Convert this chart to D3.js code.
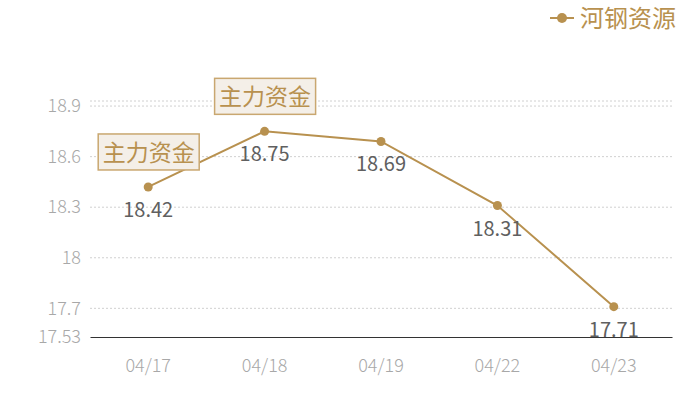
<!DOCTYPE html>
<html>
<head>
<meta charset="utf-8">
<script src="https://cdn.jsdelivr.net/npm/d3@7"></script>
<style>
  body { margin: 0; background: #fff; }
  text { font-family: "Noto Sans CJK SC", "Noto Sans", sans-serif; }
</style>
</head>
<body>
<div id="chart"></div>
<script>
// data
var dates = ["04/17", "04/18", "04/19", "04/22", "04/23"];
var prices = [18.42, 18.75, 18.69, 18.31, 17.71];
var yTicks = [17.53, 17.7, 18, 18.3, 18.6, 18.9];
var yMin = 17.53, yMax = 18.93;
var seriesName = "河钢资源";
var notes = [{ date: "04/17", text: "主力资金" }, { date: "04/18", text: "主力资金" }];

var svgWidth = 700;
var svgHeight = 400;
var margin = { top: 101, right: 28, bottom: 63, left: 90 };
var width = svgWidth - margin.left - margin.right;
var height = svgHeight - margin.top - margin.bottom;

var gold = "#b8914f";

var svg = d3.select("#chart")
  .append("svg")
  .attr("width", svgWidth)
  .attr("height", svgHeight);

var chartGroup = svg.append("g")
  .attr("transform", `translate(${margin.left}, ${margin.top})`);

var xScale = d3.scaleBand().domain(dates).range([0, width]);
var yScale = d3.scaleLinear().domain([yMin, yMax]).range([height, 0]);

// grid lines (dashed), top one unlabeled
var gridVals = yTicks.filter(d => d !== yMin).concat([yMax]);
chartGroup.selectAll(".grid")
  .data(gridVals)
  .enter()
  .append("line")
  .attr("x1", 0)
  .attr("x2", width)
  .attr("y1", d => yScale(d))
  .attr("y2", d => yScale(d))
  .attr("stroke", "#d0d0d0")
  .attr("stroke-dasharray", "2,2");

// y axis labels
var leftAxis = d3.axisLeft(yScale).tickValues(yTicks).tickSize(0).tickPadding(9).tickFormat(d => String(+d.toFixed(2)));
var yAxisG = chartGroup.append("g").call(leftAxis);
yAxisG.select(".domain").remove();
yAxisG.selectAll("text")
  .attr("fill", "#a8a8a8")
  .style("font-size", "18px")
  .style("font-weight", 300);

// x axis
var bottomAxis = d3.axisBottom(xScale).tickSize(0).tickPadding(22);
var xAxisG = chartGroup.append("g")
  .attr("transform", `translate(0, ${height})`)
  .call(bottomAxis);
xAxisG.select(".domain").attr("stroke", "#333").attr("stroke-width", 1.2);
xAxisG.selectAll("text")
  .attr("fill", "#a8a8a8")
  .style("font-size", "18px")
  .style("font-weight", 300);

var cx = d => xScale(d) + xScale.bandwidth() / 2;

// line
var line = d3.line()
  .x((d, i) => cx(dates[i]))
  .y(d => yScale(d));

chartGroup.append("path")
  .datum(prices)
  .attr("fill", "none")
  .attr("stroke", gold)
  .attr("stroke-width", 2)
  .attr("d", line);

chartGroup.selectAll(".pt")
  .data(prices)
  .enter()
  .append("circle")
  .attr("cx", (d, i) => cx(dates[i]))
  .attr("cy", d => yScale(d))
  .attr("r", 4.5)
  .attr("fill", gold);

// value labels
chartGroup.selectAll(".val")
  .data(prices)
  .enter()
  .append("text")
  .attr("x", (d, i) => cx(dates[i]))
  .attr("y", d => yScale(d) + 30)
  .attr("text-anchor", "middle")
  .attr("fill", "#606060")
  .style("font-size", "20px")
  .text(d => d.toFixed(2));

// annotation boxes
notes.forEach(function(n) {
  var i = dates.indexOf(n.date);
  var px = cx(n.date), py = yScale(prices[i]);
  var g = chartGroup.append("g");
  g.append("rect")
    .attr("x", px - 50)
    .attr("y", py - 53)
    .attr("width", 101)
    .attr("height", 36)
    .attr("fill", "#f4efe8")
    .attr("stroke", "#c9a770")
    .attr("stroke-width", 1.5);
  g.append("text")
    .attr("x", px + 0.5)
    .attr("y", py - 26)
    .attr("text-anchor", "middle")
    .attr("fill", gold)
    .style("font-size", "23px")
    .text(n.text);
});

// legend
var legend = svg.append("g").attr("transform", "translate(550, 18)");
legend.append("line").attr("x1", 0).attr("x2", 24).attr("stroke", gold).attr("stroke-width", 2);
legend.append("circle").attr("cx", 12).attr("r", 5).attr("fill", gold);
legend.append("text")
  .attr("x", 30)
  .attr("y", 9)
  .attr("fill", gold)
  .style("font-size", "24px")
  .text(seriesName);
</script>
</body>
</html>
